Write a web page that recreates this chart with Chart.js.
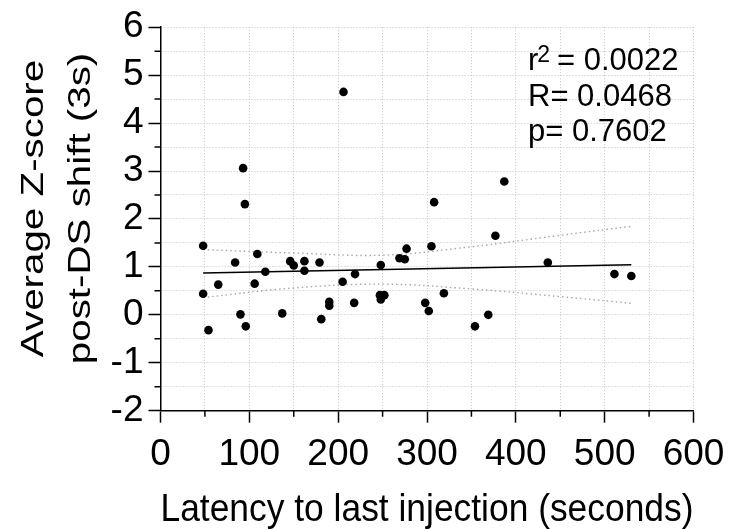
<!DOCTYPE html>
<html>
<head>
<meta charset="utf-8">
<script src="https://cdn.jsdelivr.net/npm/chart.js@4.4.1/dist/chart.umd.min.js"></script>
<style>
  html, body { margin: 0; padding: 0; background: #fff; }
  #wrap { width: 740px; height: 529px; }
</style>
</head>
<body>
<div id="wrap"><canvas id="latencyChart" width="740" height="529"></canvas></div>
<script>
// latency to last injection (s) vs average z-score after the DS shift
const latency = [48, 48, 54, 65, 84, 90, 96, 95, 106, 109, 118, 137, 146, 150, 162, 162,
                 179, 181, 190, 190, 205, 219, 218, 248, 247, 252, 248, 269, 275, 277,
                 298, 302, 305, 206, 93, 308, 319, 377, 354, 369, 436, 511, 530, 387];
const zScore = [1.44, 0.44, -0.32, 0.63, 1.09, 0.01, -0.24, 2.31, 0.65, 1.27, 0.90, 0.03, 1.12, 1.03, 1.12, 0.92,
                1.09, -0.09, 0.27, 0.19, 0.69, 0.85, 0.25, 1.04, 0.41, 0.41, 0.32, 1.18, 1.16, 1.38,
                0.25, 0.08, 1.43, 4.65, 3.06, 2.35, 0.45, 1.65, -0.24, 0.00, 1.09, 0.85, 0.81, 2.78];

// regression line and its confidence band
const fitX = [48, 530];
const fitY = [0.87, 1.045];
const bandX = [48, 150, 250, 350, 450, 530];
const bandUpper = [1.36, 1.29, 1.245, 1.42, 1.66, 1.845];
const bandLower = [0.36, 0.56, 0.64, 0.54, 0.38, 0.24];

const xTickLabels = [0, 100, 200, 300, 400, 500, 600];
const yTickLabels = [-2, -1, 0, 1, 2, 3, 4, 5, 6];
const yTitle = ['Average Z-score', 'post-DS shift (3s)'];
const xTitle = 'Latency to last injection (seconds)';
const statLines = ['R= 0.0468', 'p= 0.7602'];
const rSquared = '= 0.0022';

const FONT = "'Liberation Sans', Arial, Helvetica, sans-serif";

function toPoints(xs, ys) {
    return xs.map((x, i) => ({ x: x, y: ys[i] }));
}

// minor ticks, rotated y title and the stats text
const extras = {
    id: 'extras',
    afterDraw(chart) {
        const ctx = chart.ctx;
        const xs = chart.scales.x;
        const ys = chart.scales.y;
        const area = chart.chartArea;
        ctx.save();

        ctx.strokeStyle = '#000';
        ctx.lineWidth = 1.5;
        ctx.beginPath();
        for (let i = 0; i < yTickLabels.length - 1; i++) {
            const py = ys.getPixelForValue((yTickLabels[i] + yTickLabels[i + 1]) / 2);
            ctx.moveTo(area.left - 6, py);
            ctx.lineTo(area.left, py);
        }
        for (let i = 0; i < xTickLabels.length - 1; i++) {
            const px = xs.getPixelForValue((xTickLabels[i] + xTickLabels[i + 1]) / 2);
            ctx.moveTo(px, area.bottom);
            ctx.lineTo(px, area.bottom + 6);
        }
        ctx.stroke();

        // y axis title, two lines, a bit stretched like the original
        ctx.fillStyle = '#000';
        ctx.font = '32px ' + FONT;
        ctx.textAlign = 'center';
        ctx.textBaseline = 'alphabetic';
        const titleX = [43, 90];
        yTitle.forEach((line, i) => {
            ctx.save();
            ctx.translate(titleX[i], 208.5);
            ctx.rotate(-Math.PI / 2);
            ctx.scale(1.26, 1);
            ctx.fillText(line, 0, 0);
            ctx.restore();
        });

        // stats box
        ctx.textAlign = 'left';
        ctx.font = '31px ' + FONT;
        ctx.fillText('r', 528, 70);
        const rw = ctx.measureText('r').width;
        ctx.font = '23px ' + FONT;
        ctx.fillText('2', 528 + rw - 1, 61.5);
        ctx.font = '31px ' + FONT;
        ctx.fillText(rSquared, 557, 70);
        ctx.fillText(statLines[0], 528, 105.5);
        ctx.fillText(statLines[1], 528, 141);

        ctx.restore();
    }
};

function initializeLatencyChart() {
    const canvas = document.getElementById('latencyChart');
    if (!canvas) {
        console.warn('Chart canvas is missing!');
        return;
    }
    new Chart(canvas.getContext('2d'), {
        type: 'scatter',
        data: {
            datasets: [
                {
                    label: 'Animals',
                    data: toPoints(latency, zScore),
                    backgroundColor: '#000',
                    borderWidth: 0,
                    pointRadius: 4.3,
                    order: 1
                },
                {
                    label: 'Fit',
                    data: toPoints(fitX, fitY),
                    showLine: true,
                    borderColor: '#000',
                    borderWidth: 1.5,
                    pointRadius: 0,
                    order: 2
                },
                {
                    label: 'Upper band',
                    data: toPoints(bandX, bandUpper),
                    showLine: true,
                    borderColor: '#a8a8a8',
                    borderWidth: 1.4,
                    borderDash: [1.5, 3],
                    tension: 0.4,
                    pointRadius: 0,
                    order: 3
                },
                {
                    label: 'Lower band',
                    data: toPoints(bandX, bandLower),
                    showLine: true,
                    borderColor: '#a8a8a8',
                    borderWidth: 1.4,
                    borderDash: [1.5, 3],
                    tension: 0.4,
                    pointRadius: 0,
                    order: 3
                }
            ]
        },
        options: {
            responsive: false,
            animation: false,
            layout: { padding: { top: 24, right: 46.5, bottom: 0, left: 0 } },
            plugins: {
                legend: { display: false },
                tooltip: { enabled: false }
            },
            scales: {
                x: {
                    type: 'linear',
                    min: 0,
                    max: 600,
                    afterFit: (scale) => { scale.height = 118.3; },
                    border: { color: '#000', width: 1.5, dash: [1, 2] },
                    grid: {
                        color: '#c4c4c4',
                        lineWidth: 1,
                        tickLength: 12,
                        tickWidth: 1.5,
                        tickColor: (c) => (c.tick && c.tick.value % 100 === 0 ? '#000' : 'rgba(0,0,0,0)')
                    },
                    ticks: {
                        stepSize: 50,
                        autoSkip: false,
                        maxRotation: 0,
                        padding: 10,
                        color: '#000',
                        font: { family: FONT, size: 37 },
                        callback: (v) => (xTickLabels.includes(v) ? String(v) : '')
                    },
                    title: {
                        display: true,
                        text: xTitle,
                        color: '#000',
                        font: { family: FONT, size: 38 },
                        padding: { top: 0, bottom: -4 }
                    }
                },
                y: {
                    type: 'linear',
                    min: -2,
                    max: 6,
                    afterFit: (scale) => { scale.width = 160.5; },
                    border: { color: '#000', width: 1.5, dash: [1, 2] },
                    grid: {
                        color: '#c4c4c4',
                        lineWidth: 1,
                        tickLength: 12,
                        tickWidth: 1.5,
                        tickColor: (c) => (c.tick && Number.isInteger(c.tick.value) ? '#000' : 'rgba(0,0,0,0)')
                    },
                    ticks: {
                        stepSize: 0.5,
                        autoSkip: false,
                        padding: 5,
                        color: '#000',
                        font: { family: FONT, size: 37 },
                        callback: (v) => (yTickLabels.includes(v) ? String(v) : '')
                    }
                }
            }
        },
        plugins: [extras]
    });
}

initializeLatencyChart();
</script>
</body>
</html>
